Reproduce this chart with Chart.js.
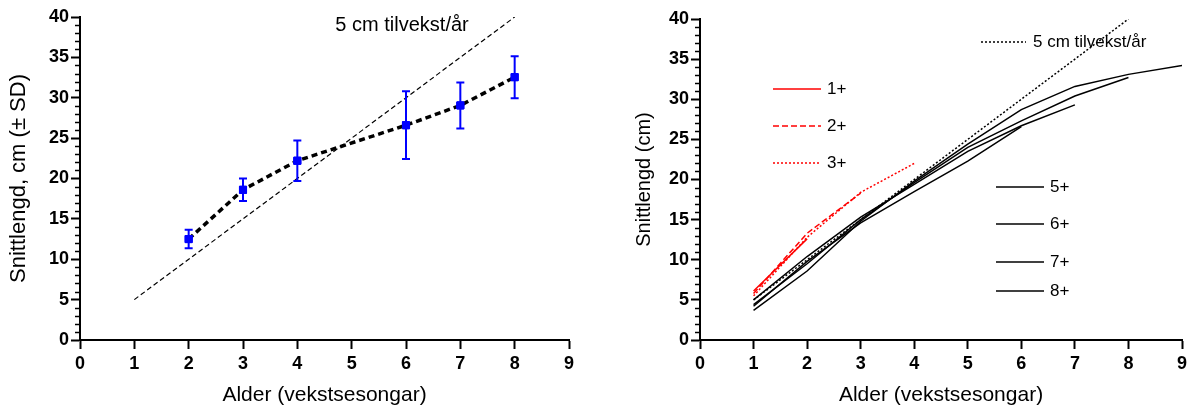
<!DOCTYPE html>
<html>
<head>
<meta charset="utf-8">
<script src="https://cdn.jsdelivr.net/npm/chart.js@4.4.1/dist/chart.umd.min.js"></script>
<style>
  html, body { margin: 0; padding: 0; background: #fff; }
  #wrap { position: relative; width: 1192px; height: 408px; }
  #left { position: absolute; left: 0; top: 0; }
  #right { position: absolute; left: 600px; top: 0; }
</style>
</head>
<body>
<div id="wrap">
  <canvas id="left" width="600" height="408"></canvas>
  <canvas id="right" width="592" height="408"></canvas>
</div>
<script>
// --- DATA: left panel (mean length by age, +- SD) ---
const ages = [2, 3, 4, 6, 7, 8];
const meanLen = [12.5, 18.6, 22.2, 26.6, 29.05, 32.55];
const sdLen = [1.15, 1.4, 2.5, 4.2, 2.85, 2.6];

// 5 cm growth per year reference
const refAges = [1, 8];
const refLen = [5, 40];

// --- DATA: right panel (back-calculated length per age group) ---
const groupAges = [1, 2, 3, 4, 5, 6, 7, 8, 9];
const len1 = [6.1, 12.6];
const len2 = [5.8, 13.3, 18.3];
const len3 = [5.5, 12.8, 18.4, 22.0];
const len5 = [4.2, 9.8, 14.6, 18.5, 22.3, 26.6];
const len6 = [5.0, 10.4, 15.3, 19.4, 23.5, 26.7, 29.3];
const len7 = [4.4, 9.5, 15.0, 19.6, 24.0, 27.3, 30.4, 32.7];
const len8 = [3.7, 8.6, 14.8, 19.8, 24.4, 28.7, 31.6, 33.1, 34.2];

const groupNames = ['1+', '2+', '3+', '5+', '6+', '7+', '8+'];
const refLabel = '5 cm tilvekst/år';

const xTitle = 'Alder (vekstsesongar)';
const yTitleLeft = 'Snittlengd, cm (± SD)';
const yTitleRight = 'Snittlengd (cm)';

const FONT = "'Liberation Sans', Arial, sans-serif";

function toPts(xs, ys) {
    return ys.map((y, i) => ({ x: xs[i], y: y }));
}

// --- AXES ---
function makeScales(yWidth, yTitle, yTitleSize, yTitlePad, xTitleSize) {
    const tickFont = { family: FONT, size: 18, weight: 'bold' };
    const common = {
        type: 'linear',
        border: { display: true, color: '#000', width: 2 },
        grid: { drawOnChartArea: false, drawTicks: true, tickLength: 9, tickWidth: 2, tickColor: '#000' },
    };
    return {
        x: Object.assign({}, common, {
            min: 0, max: 9,
            ticks: { stepSize: 1, color: '#000', font: tickFont, padding: 4, maxRotation: 0 },
            title: { display: true, text: xTitle, color: '#000', font: { family: FONT, size: xTitleSize }, padding: { top: 0, bottom: 0 } },
            afterFit: s => { s.height = 68; }
        }),
        y: Object.assign({}, common, {
            min: 0, max: 40,
            ticks: { stepSize: 5, color: '#000', font: tickFont, padding: 2 },
            title: { display: true, text: yTitle, color: '#000', font: { family: FONT, size: yTitleSize }, padding: { top: yTitlePad, bottom: 0 } },
            afterFit: s => { s.width = yWidth; }
        })
    };
}

// minor ticks on y axis every 1 cm
const minorTicks = {
    id: 'minorTicks',
    afterDraw(chart) {
        const { ctx, chartArea, scales: { y } } = chart;
        ctx.save();
        ctx.strokeStyle = '#000';
        ctx.lineWidth = 1.5;
        for (let v = y.min; v <= y.max; v++) {
            if (v % 5 === 0) continue;
            const py = Math.round(y.getPixelForValue(v)) + 0.5;
            ctx.beginPath();
            ctx.moveTo(chartArea.left - 5, py);
            ctx.lineTo(chartArea.left, py);
            ctx.stroke();
        }
        ctx.restore();
    }
};

// --- LEFT CHART ---
const errorBars = {
    id: 'errorBars',
    afterDatasetsDraw(chart) {
        const { ctx, scales: { x, y } } = chart;
        ctx.save();
        ctx.strokeStyle = '#0000ff';
        ctx.lineWidth = 2;
        ages.forEach((a, i) => {
            const px = x.getPixelForValue(a);
            const top = y.getPixelForValue(meanLen[i] + sdLen[i]);
            const bot = y.getPixelForValue(meanLen[i] - sdLen[i]);
            ctx.beginPath();
            ctx.moveTo(px, top); ctx.lineTo(px, bot);
            ctx.moveTo(px - 4, top); ctx.lineTo(px + 4, top);
            ctx.moveTo(px - 4, bot); ctx.lineTo(px + 4, bot);
            ctx.stroke();
        });
        // redraw markers on top of bars
        const meta = chart.getDatasetMeta(1);
        meta.data.forEach(pt => pt.draw(ctx));
        ctx.restore();
    }
};

const leftLabel = {
    id: 'leftLabel',
    afterDraw(chart) {
        const { ctx, scales: { x, y } } = chart;
        ctx.save();
        ctx.fillStyle = '#000';
        ctx.font = '20px ' + FONT;
        ctx.textBaseline = 'middle';
        ctx.fillText(refLabel, x.getPixelForValue(4.7), y.getPixelForValue(38.9));
        ctx.restore();
    }
};

new Chart(document.getElementById('left'), {
    type: 'line',
    data: {
        datasets: [
            {
                data: toPts(refAges, refLen),
                borderColor: '#000', borderWidth: 1.2, borderDash: [5, 3],
                pointRadius: 0, fill: false
            },
            {
                data: toPts(ages, meanLen),
                borderColor: '#000', borderWidth: 3.5, borderDash: [6, 4],
                pointStyle: 'rect', pointRadius: 5, pointBackgroundColor: '#0000ff',
                pointBorderColor: '#0000ff', pointBorderWidth: 1, fill: false
            }
        ]
    },
    options: {
        responsive: false, animation: false, devicePixelRatio: 1,
        layout: { padding: { left: 0, right: 31, top: 17, bottom: 0 } },
        plugins: { legend: { display: false }, tooltip: { enabled: false } },
        scales: makeScales(80, yTitleLeft, 22, 6, 21)
    },
    plugins: [errorBars, minorTicks, leftLabel]
});

// --- RIGHT CHART ---
const red = '#ff0000';
const groupStyles = [
    { color: red, dash: [] },
    { color: red, dash: [6, 3] },
    { color: red, dash: [2, 2] },
    { color: '#000', dash: [] },
    { color: '#000', dash: [] },
    { color: '#000', dash: [] },
    { color: '#000', dash: [] }
];
const groupData = [len1, len2, len3, len5, len6, len7, len8];

const rightLegend = {
    id: 'rightLegend',
    afterDraw(chart) {
        const { ctx, chartArea: ca } = chart;
        ctx.save();
        ctx.font = '17px ' + FONT;
        ctx.textBaseline = 'middle';
        ctx.fillStyle = '#000';
        ctx.lineWidth = 1.5;
        // reference entry
        ctx.strokeStyle = '#000';
        ctx.setLineDash([2, 2]);
        ctx.beginPath();
        ctx.moveTo(ca.left + 281, ca.top + 23); ctx.lineTo(ca.left + 326, ca.top + 23);
        ctx.stroke();
        ctx.fillText(refLabel, ca.left + 333, ca.top + 23);
        // group entries
        const rows = [
            [73, 70], [73, 107], [73, 144],
            [296, 168], [296, 205], [296, 243], [296, 272]
        ];
        rows.forEach((r, i) => {
            const st = groupStyles[i];
            ctx.strokeStyle = st.color;
            ctx.setLineDash(st.dash);
            ctx.beginPath();
            ctx.moveTo(ca.left + r[0], ca.top + r[1]);
            ctx.lineTo(ca.left + r[0] + 48, ca.top + r[1]);
            ctx.stroke();
            ctx.fillText(groupNames[i], ca.left + r[0] + 54, ca.top + r[1]);
        });
        ctx.restore();
    }
};

const rightSets = groupData.map((d, i) => ({
    data: toPts(groupAges, d),
    borderColor: groupStyles[i].color, borderWidth: 1.5, borderDash: groupStyles[i].dash,
    pointRadius: 0, fill: false
}));
rightSets.push({
    data: toPts(refAges, refLen),
    borderColor: '#000', borderWidth: 1.5, borderDash: [2, 2],
    pointRadius: 0, fill: false
});

new Chart(document.getElementById('right'), {
    type: 'line',
    data: { datasets: rightSets },
    options: {
        responsive: false, animation: false, devicePixelRatio: 1,
        layout: { padding: { left: 0, right: 10, top: 19, bottom: 0 } },
        plugins: { legend: { display: false }, tooltip: { enabled: false } },
        scales: makeScales(100, yTitleRight, 20, 32, 21)
    },
    plugins: [minorTicks, rightLegend]
});
</script>
</body>
</html>
